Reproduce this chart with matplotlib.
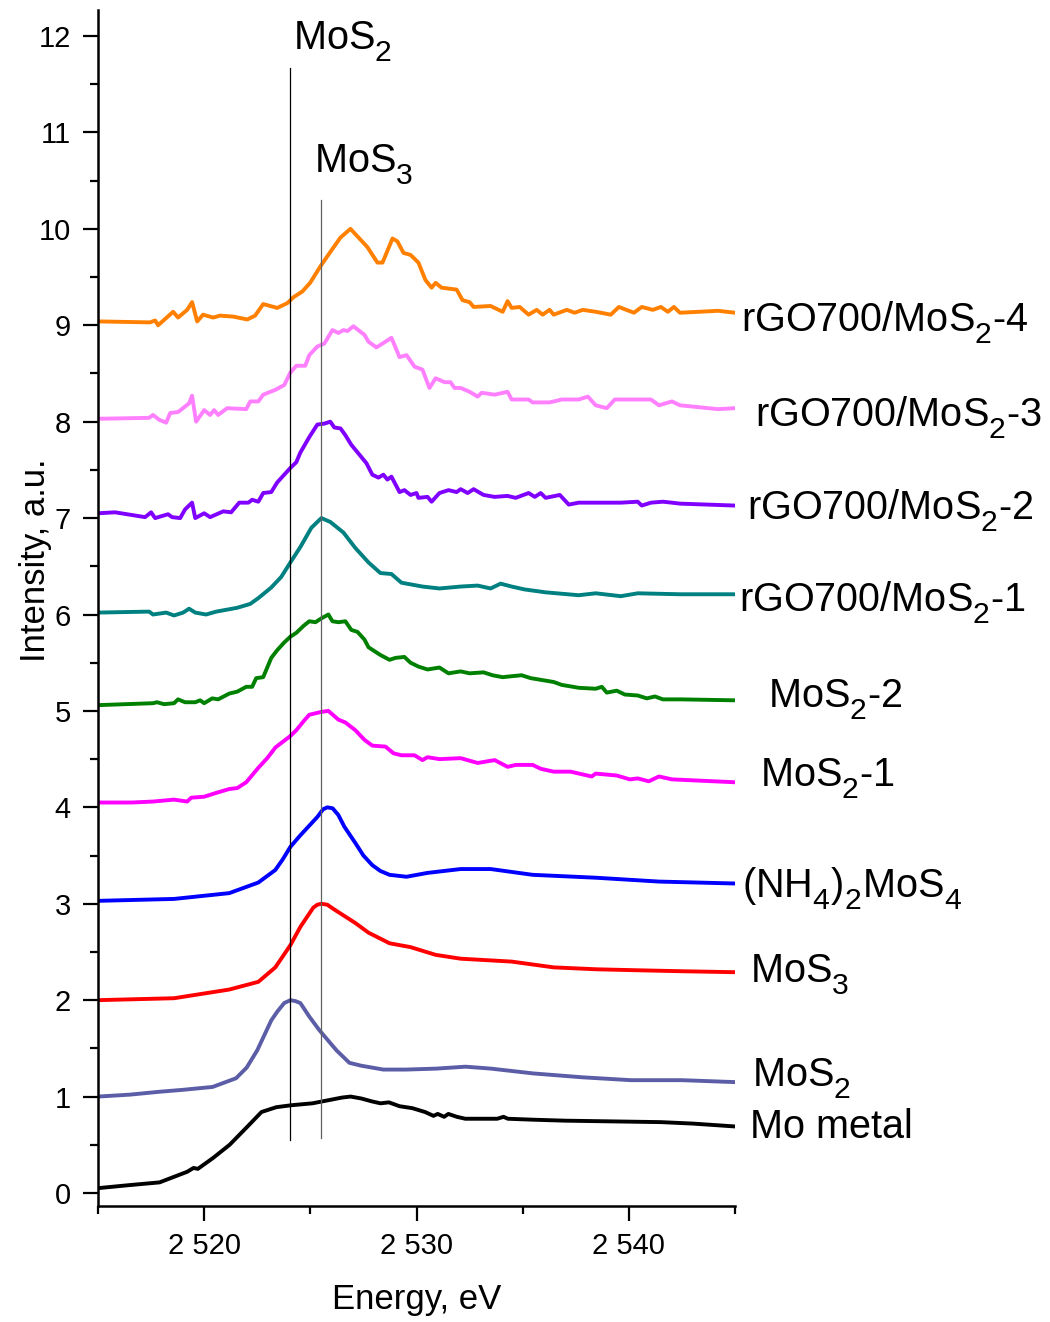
import matplotlib
matplotlib.use("Agg")
import matplotlib.pyplot as plt
from matplotlib.ticker import MultipleLocator, FuncFormatter

plt.rcParams['font.family'] = ['Liberation Sans', 'DejaVu Sans']
plt.rcParams['mathtext.fontset'] = 'custom'
plt.rcParams['mathtext.rm'] = 'Liberation Sans'
plt.rcParams['mathtext.it'] = 'Liberation Sans:italic'
plt.rcParams['mathtext.bf'] = 'Liberation Sans:bold'
plt.rcParams['mathtext.default'] = 'regular'

# push subscripts a bit lower and larger (Origin-style chemical formulas)
try:
    import matplotlib._mathtext as _mt
    _mt.FontConstantsBase.sub1 = 0.55
    _mt.SHRINK_FACTOR = 0.76
except Exception:
    pass

# S K-edge spectra: energy (eV) and vertically shifted intensity (a.u.)
e_mo = [2515.0, 2516.4, 2517.9, 2519.2, 2519.5, 2519.7, 2520.4, 2521.2, 2522.0, 2522.7, 2523.4,
        2524.1, 2525.1, 2525.8, 2526.5, 2526.9, 2527.4, 2527.9, 2528.3, 2528.7, 2529.2, 2529.8,
        2530.4, 2530.8, 2531.0, 2531.3, 2531.5, 2531.9, 2532.3, 2533.0, 2533.8, 2534.1, 2534.3,
        2535.5, 2537.0, 2538.5, 2540.0, 2541.5, 2543.0, 2545.0]
i_mo = [0.05, 0.08, 0.11, 0.22, 0.26, 0.25, 0.36, 0.50, 0.68, 0.84, 0.89,
        0.91, 0.93, 0.96, 0.99, 1.00, 0.98, 0.95, 0.93, 0.94, 0.90, 0.88,
        0.84, 0.80, 0.82, 0.79, 0.82, 0.79, 0.77, 0.77, 0.77, 0.79, 0.77,
        0.76, 0.75, 0.745, 0.74, 0.735, 0.72, 0.69]

e_mos2 = [2515.0, 2516.5, 2517.9, 2519.0, 2520.4, 2521.5, 2522.0, 2522.5, 2523.16, 2523.44, 2523.77,
          2524.06, 2524.3, 2524.53, 2524.95, 2525.42, 2526.23, 2526.84, 2527.4, 2528.44, 2529.5,
          2530.94, 2532.31, 2533.5, 2535.5, 2537.8, 2540.1, 2542.5, 2545.0]
i_mos2 = [1.00, 1.02, 1.05, 1.07, 1.10, 1.19, 1.30, 1.48, 1.79, 1.88, 1.97,
          2.00, 1.99, 1.97, 1.83, 1.69, 1.48, 1.35, 1.32, 1.28, 1.28,
          1.29, 1.31, 1.29, 1.24, 1.20, 1.17, 1.17, 1.15]

e_mos3 = [2515.0, 2518.58, 2521.18, 2522.55, 2523.35, 2524.06, 2524.53, 2525.14, 2525.33, 2525.52,
          2525.8, 2526.13, 2527.12, 2527.74, 2528.73, 2529.72, 2530.9, 2532.08, 2534.48, 2536.46,
          2538.5, 2540.42, 2542.5, 2545.0]
i_mos3 = [2.00, 2.02, 2.11, 2.19, 2.34, 2.57, 2.76, 2.96, 2.99, 3.00,
          2.99, 2.94, 2.80, 2.70, 2.59, 2.55, 2.47, 2.43, 2.40, 2.34,
          2.32, 2.31, 2.30, 2.29]

e_nh4 = [2515.0, 2518.58, 2521.18, 2522.55, 2523.35, 2523.7, 2524.06, 2524.53, 2525.33, 2525.6,
         2525.8, 2526.05, 2526.32, 2526.6, 2527.12, 2527.5, 2527.92, 2528.3, 2528.73, 2529.53,
         2530.52, 2532.08, 2533.49, 2535.47, 2538.44, 2541.42, 2545.0]
i_nh4 = [3.03, 3.05, 3.11, 3.22, 3.35, 3.46, 3.59, 3.71, 3.90, 3.98,
         4.00, 3.99, 3.92, 3.80, 3.63, 3.50, 3.40, 3.34, 3.30, 3.28,
         3.32, 3.36, 3.36, 3.30, 3.27, 3.23, 3.21]

e_mos2_1 = [2515.0, 2516.6, 2517.59, 2518.58, 2519.2, 2519.39, 2520.0, 2520.57, 2521.18, 2521.56,
            2521.98, 2522.36, 2522.55, 2522.97, 2523.25, 2523.35, 2524.06, 2524.34, 2524.67, 2524.95,
            2525.52, 2525.85, 2526.32, 2526.65, 2527.12, 2527.55, 2527.92, 2528.54, 2528.92, 2529.29,
            2529.91, 2530.28, 2530.52, 2531.08, 2532.08, 2532.88, 2533.68, 2534.29, 2534.67, 2535.47,
            2535.85, 2536.46, 2537.26, 2538.25, 2538.44, 2539.43, 2540.05, 2540.42, 2540.94, 2541.42,
            2542.03, 2545.0]
i_mos2_1 = [4.05, 4.05, 4.06, 4.08, 4.06, 4.10, 4.11, 4.15, 4.19, 4.20,
            4.26, 4.36, 4.41, 4.51, 4.59, 4.62, 4.74, 4.80, 4.89, 4.96,
            4.99, 5.00, 4.91, 4.88, 4.80, 4.70, 4.64, 4.63, 4.56, 4.54,
            4.54, 4.49, 4.52, 4.50, 4.51, 4.46, 4.49, 4.42, 4.44, 4.44,
            4.40, 4.37, 4.37, 4.32, 4.35, 4.33, 4.29, 4.30, 4.27, 4.32,
            4.29, 4.26]

e_mos2_2 = [2515.0, 2517.59, 2517.78, 2518.11, 2518.58, 2518.77, 2519.10, 2519.58, 2519.81, 2520.0,
            2520.38, 2520.66, 2521.18, 2521.56, 2521.98, 2522.26, 2522.45, 2522.78, 2523.16, 2523.44,
            2523.77, 2524.06, 2524.34, 2524.67, 2524.95, 2525.24, 2525.52, 2525.85, 2526.04, 2526.32,
            2526.65, 2526.93, 2527.22, 2527.55, 2527.74, 2528.3, 2528.73, 2529.01, 2529.43, 2529.72,
            2530.09, 2530.52, 2531.08, 2531.51, 2532.08, 2532.5, 2533.16, 2533.58, 2534.06, 2534.48,
            2534.95, 2535.38, 2536.46, 2536.84, 2537.64, 2538.44, 2538.73, 2538.96, 2539.43, 2539.81,
            2540.42, 2540.85, 2541.23, 2541.6, 2542.41, 2545.0]
i_mos2_2 = [5.06, 5.08, 5.09, 5.07, 5.08, 5.12, 5.09, 5.09, 5.11, 5.08,
            5.13, 5.12, 5.18, 5.20, 5.25, 5.25, 5.34, 5.35, 5.55, 5.63,
            5.71, 5.77, 5.81, 5.88, 5.93, 5.92, 5.96, 6.00, 5.93, 5.92,
            5.93, 5.84, 5.82, 5.74, 5.66, 5.58, 5.53, 5.55, 5.56, 5.50,
            5.46, 5.43, 5.45, 5.39, 5.41, 5.39, 5.40, 5.37, 5.35, 5.36,
            5.37, 5.34, 5.30, 5.27, 5.24, 5.23, 5.25, 5.19, 5.21, 5.17,
            5.16, 5.13, 5.15, 5.12, 5.12, 5.11]

e_rgo1 = [2515.0, 2517.41, 2517.59, 2518.21, 2518.58, 2519.01, 2519.29, 2519.58, 2520.09, 2520.57,
          2521.56, 2522.17, 2522.55, 2523.16, 2523.63, 2524.06, 2524.53, 2525.05, 2525.52, 2525.94,
          2526.56, 2527.12, 2527.74, 2528.3, 2528.82, 2529.29, 2530.28, 2531.08, 2532.08, 2532.88,
          2533.49, 2533.96, 2534.48, 2535.09, 2536.08, 2537.64, 2538.44, 2539.62, 2540.42, 2542.41,
          2545.0]
i_rgo1 = [6.02, 6.03, 6.00, 6.02, 5.99, 6.02, 6.06, 6.02, 6.00, 6.03,
          6.07, 6.11, 6.17, 6.28, 6.39, 6.54, 6.70, 6.90, 7.00, 6.96,
          6.85, 6.69, 6.54, 6.43, 6.42, 6.33, 6.29, 6.27, 6.29, 6.30,
          6.27, 6.32, 6.29, 6.26, 6.23, 6.20, 6.22, 6.19, 6.22, 6.21,
          6.21]

e_rgo2 = [2515.0, 2515.8, 2517.22, 2517.5, 2517.69, 2518.3, 2518.49, 2518.87, 2519.1, 2519.43,
          2519.58, 2520.0, 2520.28, 2520.9, 2521.27, 2521.65, 2522.08, 2522.26, 2522.55, 2522.78,
          2523.16, 2523.44, 2523.77, 2524.06, 2524.34, 2524.53, 2524.95, 2525.33, 2525.66, 2525.94,
          2526.13, 2526.42, 2526.65, 2526.93, 2527.64, 2527.92, 2528.21, 2528.44, 2528.63, 2528.82,
          2529.2, 2529.43, 2529.72, 2530.0, 2530.09, 2530.52, 2530.71, 2531.08, 2531.51, 2531.89,
          2532.08, 2532.41, 2532.69, 2533.16, 2533.68, 2534.29, 2534.67, 2535.28, 2535.57, 2535.85,
          2536.08, 2536.75, 2537.17, 2537.64, 2538.44, 2539.62, 2540.42, 2540.61, 2541.04, 2541.6,
          2542.03, 2542.41, 2545.0]
i_rgo2 = [7.05, 7.06, 7.01, 7.06, 7.00, 7.04, 7.01, 7.00, 7.09, 7.16,
          7.00, 7.05, 7.01, 7.07, 7.06, 7.16, 7.16, 7.19, 7.17, 7.26,
          7.27, 7.37, 7.45, 7.52, 7.58, 7.68, 7.84, 7.97, 7.98, 8.00,
          7.94, 7.93, 7.86, 7.76, 7.57, 7.45, 7.42, 7.45, 7.40, 7.43,
          7.27, 7.29, 7.24, 7.26, 7.21, 7.22, 7.17, 7.26, 7.29, 7.27,
          7.30, 7.26, 7.30, 7.24, 7.22, 7.23, 7.21, 7.26, 7.22, 7.26,
          7.21, 7.24, 7.14, 7.16, 7.16, 7.16, 7.17, 7.13, 7.16, 7.17,
          7.16, 7.15, 7.13]

e_rgo3 = [2515.0, 2517.41, 2517.59, 2517.88, 2518.21, 2518.4, 2518.77, 2519.29, 2519.43, 2519.62,
          2520.0, 2520.28, 2520.47, 2520.66, 2521.08, 2521.98, 2522.17, 2522.55, 2522.78, 2523.35,
          2523.77, 2524.06, 2524.34, 2524.76, 2524.95, 2525.33, 2525.66, 2526.04, 2526.32, 2526.56,
          2526.75, 2527.03, 2527.55, 2527.74, 2528.11, 2528.54, 2528.82, 2529.2, 2529.53, 2529.91,
          2530.28, 2530.61, 2530.9, 2531.32, 2531.6, 2531.79, 2532.08, 2532.5, 2532.88, 2533.07,
          2533.68, 2534.29, 2534.48, 2535.28, 2535.47, 2536.27, 2536.84, 2537.64, 2538.07, 2538.44,
          2538.96, 2539.34, 2540.24, 2541.04, 2541.42, 2542.03, 2542.41, 2544.2, 2545.0]
i_rgo3 = [8.03, 8.04, 8.07, 8.02, 7.99, 8.09, 8.10, 8.19, 8.27, 8.00,
          8.12, 8.07, 8.12, 8.07, 8.14, 8.13, 8.21, 8.21, 8.28, 8.33,
          8.38, 8.51, 8.58, 8.58, 8.69, 8.78, 8.81, 8.95, 8.92, 8.95,
          8.94, 8.99, 8.90, 8.83, 8.77, 8.83, 8.87, 8.67, 8.69, 8.57,
          8.54, 8.35, 8.45, 8.41, 8.41, 8.35, 8.35, 8.31, 8.26, 8.30,
          8.28, 8.31, 8.23, 8.23, 8.20, 8.20, 8.23, 8.23, 8.26, 8.17,
          8.14, 8.23, 8.23, 8.23, 8.17, 8.21, 8.17, 8.13, 8.14]

e_rgo4 = [2515.0, 2517.45, 2517.69, 2517.83, 2518.54, 2518.77, 2519.2, 2519.43, 2519.67, 2519.95,
          2520.42, 2520.75, 2521.37, 2522.03, 2522.4, 2522.78, 2523.44, 2523.92, 2524.2, 2524.62,
          2524.99, 2525.47, 2525.94, 2526.42, 2526.89, 2527.69, 2528.16, 2528.4, 2528.87, 2529.1,
          2529.39, 2529.72, 2530.09, 2530.42, 2530.71, 2530.9, 2531.18, 2531.89, 2532.17, 2532.5,
          2532.69, 2533.49, 2534.06, 2534.29, 2534.48, 2534.86, 2535.28, 2535.66, 2535.94, 2536.27,
          2536.46, 2537.08, 2537.45, 2537.83, 2538.44, 2539.15, 2539.53, 2540.24, 2540.61, 2541.13,
          2541.51, 2541.84, 2542.12, 2542.41, 2544.2, 2545.0]
i_rgo4 = [9.04, 9.03, 9.05, 9.00, 9.14, 9.08, 9.16, 9.24, 9.04, 9.11,
          9.08, 9.10, 9.09, 9.06, 9.10, 9.22, 9.18, 9.23, 9.29, 9.35,
          9.44, 9.61, 9.76, 9.91, 10.00, 9.81, 9.65, 9.65, 9.90, 9.87,
          9.75, 9.73, 9.65, 9.47, 9.39, 9.44, 9.39, 9.37, 9.26, 9.24,
          9.19, 9.20, 9.14, 9.25, 9.18, 9.19, 9.11, 9.16, 9.11, 9.16,
          9.11, 9.16, 9.13, 9.16, 9.14, 9.11, 9.19, 9.13, 9.19, 9.16,
          9.19, 9.14, 9.19, 9.13, 9.15, 9.13]

series = [
    (e_mo, i_mo, 'black'),
    (e_mos2, i_mos2, '#5b5ea6'),
    (e_mos3, i_mos3, '#ff0000'),
    (e_nh4, i_nh4, '#0000ff'),
    (e_mos2_1, i_mos2_1, '#ff00ff'),
    (e_mos2_2, i_mos2_2, '#008000'),
    (e_rgo1, i_rgo1, '#008080'),
    (e_rgo2, i_rgo2, '#8000ff'),
    (e_rgo3, i_rgo3, '#ff80ff'),
    (e_rgo4, i_rgo4, '#ff8000'),
]

# curve labels: text, left x (eV), baseline y
labels = ['rGO700/MoS$_2$-4', 'rGO700/MoS$_2$-3', 'rGO700/MoS$_2$-2', 'rGO700/MoS$_2$-1',
          'MoS$_2$-2', 'MoS$_2$-1', '(NH$_4$)$_2$MoS$_4$', 'MoS$_3$', 'MoS$_2$', 'Mo metal']
label_x = [2545.3, 2545.95, 2545.55, 2545.2, 2546.55, 2546.2, 2545.35, 2545.7, 2545.8, 2545.7]
label_y = [8.93, 7.95, 6.98, 6.03, 5.03, 4.21, 3.06, 2.18, 1.10, 0.57]

# reference positions of the MoS2 and MoS3 edges
ref_e = [2524.06, 2525.5]
ref_top = [11.67, 10.30]
ref_bottom = [0.55, 0.57]
ref_colors = ['black', '#606060']
ref_names = ['MoS$_2$', 'MoS$_3$']
ref_name_x = [2524.2, 2525.15]
ref_name_y = [11.86, 10.58]

fig = plt.figure(figsize=(10.5, 13.22), dpi=100)
ax = fig.add_axes([98 / 1050, 1 - 1206 / 1322, 637 / 1050, 1196 / 1322])

for e, i, c in series:
    ax.plot(e, i, color=c, lw=2.8, solid_joinstyle='round')

for x, y0, y1, c in zip(ref_e, ref_bottom, ref_top, ref_colors):
    ax.plot([x, x], [y0, y1], color=c, lw=0.9)

for name, x, y in zip(ref_names, ref_name_x, ref_name_y):
    ax.text(x, y, name, fontsize=28.5, ha='left', va='baseline')

for name, x, y in zip(labels, label_x, label_y):
    ax.text(x, y, name, fontsize=28.5, ha='left', va='baseline', clip_on=False)

ax.set_xlim(2515, 2545)
ax.set_ylim(-0.135, 12.27)

ax.spines['top'].set_visible(False)
ax.spines['right'].set_visible(False)
ax.spines['left'].set_linewidth(1.8)
ax.spines['bottom'].set_linewidth(1.8)

ax.xaxis.set_major_locator(MultipleLocator(10))
ax.xaxis.set_minor_locator(MultipleLocator(5))
ax.yaxis.set_major_locator(MultipleLocator(1))
ax.yaxis.set_minor_locator(MultipleLocator(0.5))
ax.xaxis.set_major_formatter(FuncFormatter(lambda v, p: '{:,.0f}'.format(v).replace(',', ' ')))

ax.tick_params(which='major', direction='out', length=10.5, width=1.6, labelsize=21)
ax.tick_params(which='minor', direction='out', length=5.5, width=1.6)
ax.tick_params(axis='y', which='major', pad=9)
ax.tick_params(axis='x', which='major', pad=8)

fig.text(417 / 1050, 1 - 1300 / 1322, 'Energy, eV', fontsize=25, ha='center', va='center')
fig.text(36 / 1050, 1 - 560 / 1322, 'Intensity, a.u.', fontsize=25, ha='center', va='center',
         rotation=90)

fig.savefig('out.png', dpi=100)
